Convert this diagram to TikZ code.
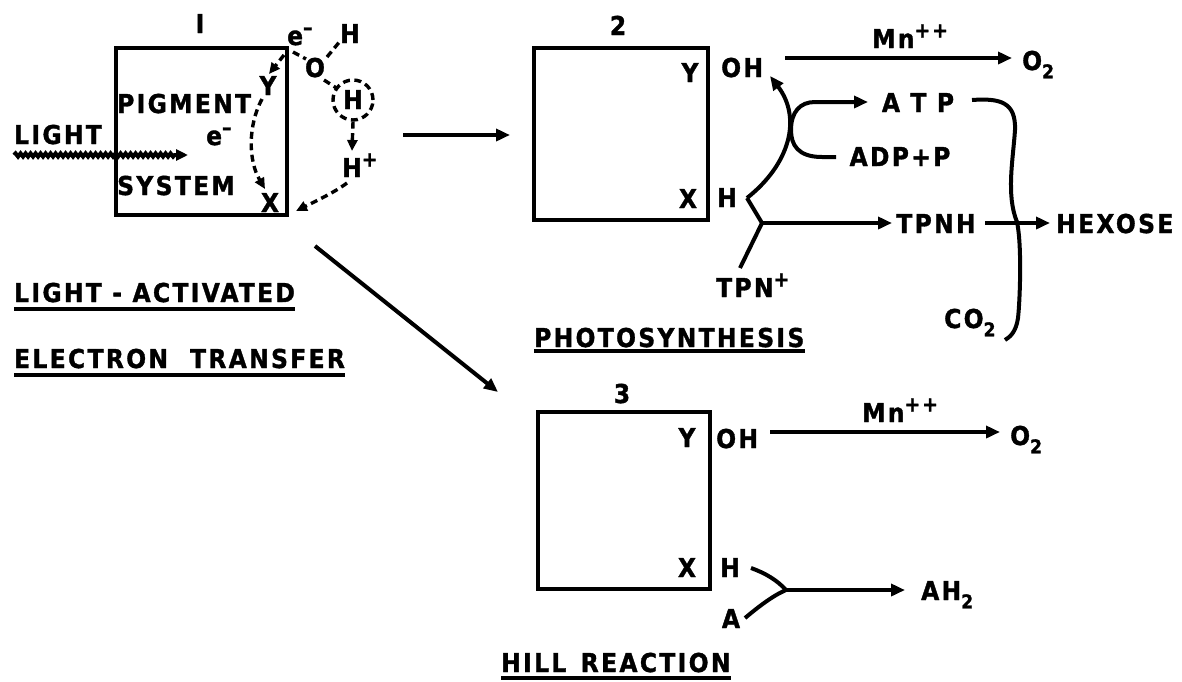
\documentclass[tikz,border=0pt]{standalone}
\usepackage{fontspec}
\setmainfont{DejaVu Sans Condensed Bold}[LetterSpace=9,FakeBold=1.3]
\usetikzlibrary{arrows.meta,decorations.pathmorphing}
\newcommand\myup[1]{\raisebox{0.4em}{\fontsize{21}{21}\selectfont #1}}
\newcommand\mydn[1]{\raisebox{-0.32em}{\fontsize{19}{19}\selectfont #1}}
\begin{document}
\begin{tikzpicture}[x=1pt,y=-1pt,
  t/.style={font=\fontsize{26}{28}\selectfont, inner sep=0pt, anchor=base},
  tw/.style={t, anchor=base west},
  bx/.style={draw, line width=4.5pt, inner sep=0pt},
  ln/.style={line width=4pt},
  arr/.style={ln, -{Triangle[length=14pt,width=12pt]}},
  dsh/.style={line width=3.4pt, dash pattern=on 7pt off 4.5pt},
  darr/.style={dsh, -{Triangle[length=11pt,width=10pt]}},
  ul/.style={line width=3.5pt}
]
\useasboundingbox (0,0) rectangle (1182,681);

% ---------- boxes ----------
\node[bx, minimum width=171pt, minimum height=167pt] (b1) at (201.5,131.5) {};
\node[bx, minimum width=174pt, minimum height=172pt] (b2) at (621,134) {};
\node[bx, minimum width=172pt, minimum height=177pt] (b3) at (624,500.5) {};

% ---------- box 1 ----------
\node[t] (n1) at (200,33) {I};
\node[tw] (light) at (14,144) {LIGHT};
\node[tw] (pig) at (117,113) {PIGMENT};
\node[tw] (sys) at (117,195) {SYSTEM};
\node[tw] (em) at (206,145) {e\myup{–}};
\node[t] (y1) at (268,95) {Y};
\node[t] (x1) at (270,212) {X};
\node[tw] (et) at (287,45) {e\myup{–}};
\node[t] (o) at (315,77) {O};
\node[t] (ht) at (350,43) {H};
\node[t] (hc) at (353,109) {H};
\node[circle, draw, dsh, minimum size=40pt, inner sep=0pt] (hcc) at (353,100) {};
\node[tw] (hp) at (342,177) {H\myup{+}};

\coordinate (ls) at (14,155);
\coordinate (le) at (188,155);
\draw[ln, decorate, decoration={snake, amplitude=1.6pt, segment length=5pt, post length=12pt}, -{Triangle[length=12pt,width=11pt]}] (ls) -- (le);

\coordinate (c1) at (284,55);
\coordinate (y1t) at (269,74);
\coordinate (y1b) at (262,99);
\coordinate (x1t) at (265,189);
\coordinate (hpb) at (347,183);
\coordinate (b1r) at (296,211);
\draw[dsh] (293,52) -- (306,59);
\draw[dsh] (327,57) -- (341,40);
\draw[dsh] (324,80) -- (338,89);
\draw[darr] (hcc.south) -- (352,151);
\draw[darr] (c1) -- (y1t);
\draw[darr] (y1b) .. controls (248,125) and (248,160) .. (x1t);
\draw[darr] (hpb) .. controls (335,192) and (318,200) .. (b1r);

% arrows out of box 1
\coordinate (a12s) at (403,135);
\coordinate (a12e) at (510,135);
\draw[arr] (a12s) -- (a12e);
\coordinate (a13s) at (315,246);
\coordinate (a13e) at (498,392);
\draw[arr] (a13s) -- (a13e);

\node[tw] (la) at (14,302) {LIGHT - ACTIVATED};
\draw[ul] ([yshift=-7pt]la.base west) -- ([yshift=-7pt]la.base east);
\node[tw] (etr) at (14,368) {ELECTRON\hspace{22pt}TRANSFER};
\draw[ul] ([yshift=-7pt]etr.base west) -- ([yshift=-7pt]etr.base east);

% ---------- box 2 ----------
\node[t] (n2) at (618,35) {2};
\node[t] (y2) at (690,82) {Y};
\node[t] (x2) at (688,208) {X};
\node[tw] (oh2) at (721,77) {OH};
\node[t] (h2) at (727,207) {H};
\node[tw] (mn2) at (872,48) {Mn\myup{++}};
\node[tw] (o2a) at (1022,70) {O\mydn{2}};
\node[t] (atp) at (918,112) {A T P};
\node[t] (adp) at (900,166) {ADP+P};
\node[t] (tpnh) at (936,233) {TPNH};
\node[tw] (hex) at (1056,233) {HEXOSE};
\node[tw] (tpn) at (716,297) {TPN\myup{+}};
\node[tw] (co2) at (944,328) {CO\mydn{2}};
\node[tw] (photo) at (534,347) {PHOTOSYNTHESIS};
\draw[ul] ([yshift=-4pt]photo.base west) -- ([yshift=-4pt]photo.base east);

\coordinate (oh2e) at (785,58);
\coordinate (o2ae) at (1012,58);
\draw[arr] (oh2e) -- (o2ae);
\coordinate (h2s) at (747,198);
\coordinate (oh2b) at (770,76);
\coordinate (j2) at (762,223);
\coordinate (tpnt) at (740,268);
\coordinate (tpnhw) at (892,223);
\draw[arr] (h2s) .. controls (790,164) and (802,118) .. (oh2b);
\draw[ln] (h2s) -- (j2);
\draw[ln] (tpnt) -- (j2);
\draw[arr] (j2) -- (tpnhw);
\coordinate (adpw) at (836,157);
\coordinate (atpw) at (868,102);
\draw[arr] (adpw) -- (822,157) .. controls (798,157) and (791,145) .. (791,130) .. controls (791,112) and (800,102) .. (815,102) -- (atpw);
\coordinate (tpnhe) at (985,223);
\coordinate (hexw) at (1050,223);
\draw[arr] (tpnhe) -- (hexw);
\coordinate (atpe) at (972,100);
\coordinate (co2e) at (1005,340);
\draw[ln] (atpe) .. controls (1000,98) and (1016,102) .. (1015,130)
  .. controls (1013,160) and (1006,195) .. (1017,222)
  .. controls (1022,245) and (1020,300) .. (1018,318)
  .. controls (1016,332) and (1010,337) .. (co2e);

% ---------- box 3 ----------
\node[t] (n3) at (622,403) {3};
\node[t] (y3) at (687,447) {Y};
\node[t] (x3) at (687,577) {X};
\node[tw] (oh3) at (716,448) {OH};
\node[t] (h3) at (730,577) {H};
\node[t] (a3) at (731,628) {A};
\node[tw] (mn3) at (862,422) {Mn\myup{++}};
\node[tw] (o2b) at (1010,445) {O\mydn{2}};
\node[tw] (ah2) at (921,600) {AH\mydn{2}};
\node[tw] (hill) at (501,672) {HILL\hspace{4pt} REACTION};
\draw[ul] ([yshift=-6pt]hill.base west) -- ([yshift=-6pt]hill.base east);

\coordinate (oh3e) at (770,432);
\coordinate (o2be) at (1000,432);
\draw[arr] (oh3e) -- (o2be);
\coordinate (h3e) at (751,568);
\coordinate (a3e) at (745,618);
\coordinate (j3) at (786,590);
\coordinate (ah2w) at (905,590);
\draw[ln] (h3e) .. controls (765,573) and (777,580) .. (j3);
\draw[ln] (a3e) .. controls (757,608) and (772,596) .. (j3);
\draw[arr] (j3) -- (ah2w);
\end{tikzpicture}
\end{document}
